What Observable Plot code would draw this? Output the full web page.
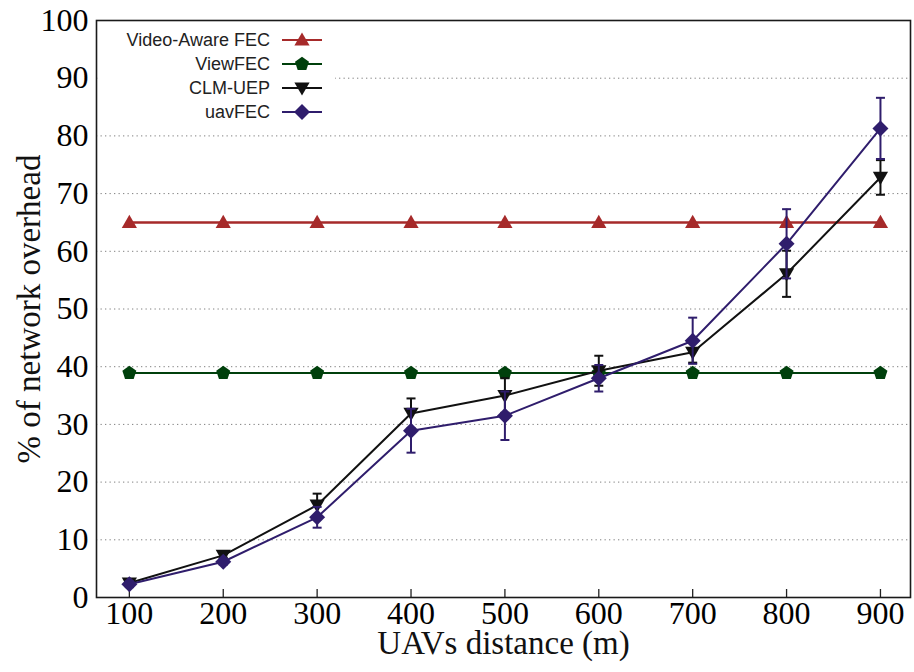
<!DOCTYPE html>
<html><head><meta charset="utf-8">
<script src="https://cdn.jsdelivr.net/npm/d3@7"></script>
<script src="https://cdn.jsdelivr.net/npm/@observablehq/plot@0.6"></script>
<style>
body{margin:0;background:#fff}
#wrap{position:relative;width:914px;height:672px}
#legend{position:absolute;left:100px;top:27px}
</style>
</head><body><div id="wrap"></div>
<script>
const distances = [100,200,300,400,500,600,700,800,900];
const videoAwareFec = [65,65,65,65,65,65,65,65,65];
const viewFec = [38.9,38.9,38.9,38.9,38.9,38.9,38.9,38.9,38.9];
const clmUep = [2.5,7.3,16.0,31.9,35.0,39.3,42.5,56.1,72.8];
const clmUepErr = [0.3,0.4,2.0,2.6,3.0,2.6,1.8,4.0,3.0];
const uavFec = [2.3,6.2,13.9,28.9,31.5,38.0,44.5,61.3,81.3];
const uavFecErr = [0.5,0.5,1.8,3.8,4.2,2.3,4.0,6.0,5.3];
const seriesNames = ["Video-Aware FEC","ViewFEC","CLM-UEP","uavFEC"];
const seriesColors = ["#a62a2a","#00400c","#111111","#2f1d6c"];
const yTicks = [0,10,20,30,40,50,60,70,80,90,100];
const xLabel = "UAVs distance (m)";
const yLabel = "% of network overhead";

// custom marker shapes (size = r^2 * PI)
const rad = s => Math.sqrt(s / Math.PI);
const triUp = {draw(c, s){const r = rad(s); c.moveTo(0,-0.95*r); c.lineTo(0.95*r,0.7*r); c.lineTo(-0.95*r,0.7*r); c.closePath();}};
const triDown = {draw(c, s){const r = rad(s); c.moveTo(0,0.95*r); c.lineTo(0.95*r,-0.7*r); c.lineTo(-0.95*r,-0.7*r); c.closePath();}};
const pentagon = {draw(c, s){const r = rad(s)*0.92; for(let k=0;k<5;k++){const a=-Math.PI/2+k*2*Math.PI/5; const x=r*Math.cos(a), y=r*Math.sin(a); k?c.lineTo(x,y):c.moveTo(x,y);} c.closePath();}};
const diamond = {draw(c, s){const r = rad(s); c.moveTo(0,-r); c.lineTo(r,0); c.lineTo(0,r); c.lineTo(-r,0); c.closePath();}};
const cap = {draw(c, s){const r = rad(s); c.moveTo(-r,0); c.lineTo(r,0);}};
const symbols = [triUp, pentagon, triDown, diamond];

const rows = distances.map((d,i)=>({
  d, va: videoAwareFec[i], vf: viewFec[i],
  clm: clmUep[i], clmLo: clmUep[i]-clmUepErr[i], clmHi: clmUep[i]+clmUepErr[i],
  uav: uavFec[i], uavLo: uavFec[i]-uavFecErr[i], uavHi: uavFec[i]+uavFecErr[i]
}));

const serif = "Liberation Serif, Times New Roman, serif";
const series = (key, i) => [
  Plot.line(rows, {x:"d", y:key, stroke:seriesColors[i], strokeWidth: i===0?2.4:2}),
  Plot.dot(rows, {x:"d", y:key, symbol:symbols[i], r:8, fill:seriesColors[i], stroke:"none"})
];
const errs = (lo, hi, i) => [
  Plot.ruleX(rows, {x:"d", y1:lo, y2:hi, stroke:seriesColors[i], strokeWidth:2}),
  Plot.dot(rows, {x:"d", y:lo, symbol:cap, r:4.5, stroke:seriesColors[i], strokeWidth:2, fill:"none"}),
  Plot.dot(rows, {x:"d", y:hi, symbol:cap, r:4.5, stroke:seriesColors[i], strokeWidth:2, fill:"none"})
];

const plot = Plot.plot({
  width:914, height:672,
  marginLeft:96, marginRight:4, marginTop:20, marginBottom:75,
  style:{background:"#fff", fontFamily: serif},
  x:{domain:[65,932]},
  y:{domain:[0,100]},
  marks:[
    Plot.ruleY(yTicks.slice(1,-1), {stroke:"#808080", strokeWidth:1, strokeDasharray:"1.3,3.2"}),
    Plot.axisY(yTicks, {tickSize:0, tickPadding:8, fontSize:32, fontFamily:serif, label:null}),
    Plot.axisX(distances, {tickSize:0, tickPadding:4, fontSize:32, fontFamily:serif, label:null}),
    Plot.axisX(distances, {tickSize:-8, tickFormat:()=>"", label:null, strokeWidth:1.3, stroke:"#222"}),
    Plot.text([xLabel], {frameAnchor:"bottom", dy:56, fontSize:33, fontFamily:serif, fill:"#111"}),
    Plot.text([yLabel], {frameAnchor:"left", textAnchor:"middle", dx:-67, rotate:-90, fontSize:33, fontFamily:serif, fill:"#111"}),
    ...series("va", 0),
    ...series("vf", 1),
    ...errs("clmLo","clmHi",2),
    ...series("clm", 2),
    ...errs("uavLo","uavHi",3),
    ...series("uav", 3),
    Plot.frame({stroke:"#1a1a1a", strokeWidth:1.6})
  ]
});
document.getElementById("wrap").appendChild(plot);

// legend overlay (inside plot area, white background)
const lg = d3.select("#wrap").append("svg").attr("id","legend").attr("width",235).attr("height",96);
lg.append("rect").attr("width",235).attr("height",96).attr("fill","#fff");
seriesNames.forEach((name,i)=>{
  const g = lg.append("g").attr("transform",`translate(0,${13 + i*24})`);
  g.append("text").attr("x",170).attr("y",0).attr("dy","0.35em").attr("text-anchor","end")
    .attr("font-family","Liberation Sans, Arial, sans-serif").attr("font-size",18).attr("fill","#222").text(name);
  g.append("line").attr("x1",182).attr("x2",222).attr("stroke",seriesColors[i]).attr("stroke-width",2);
  g.append("path").attr("transform","translate(202,0)").attr("fill",seriesColors[i])
    .attr("d", d3.symbol().type(symbols[i]).size(8*8*Math.PI)());
});
</script>
</body></html>
